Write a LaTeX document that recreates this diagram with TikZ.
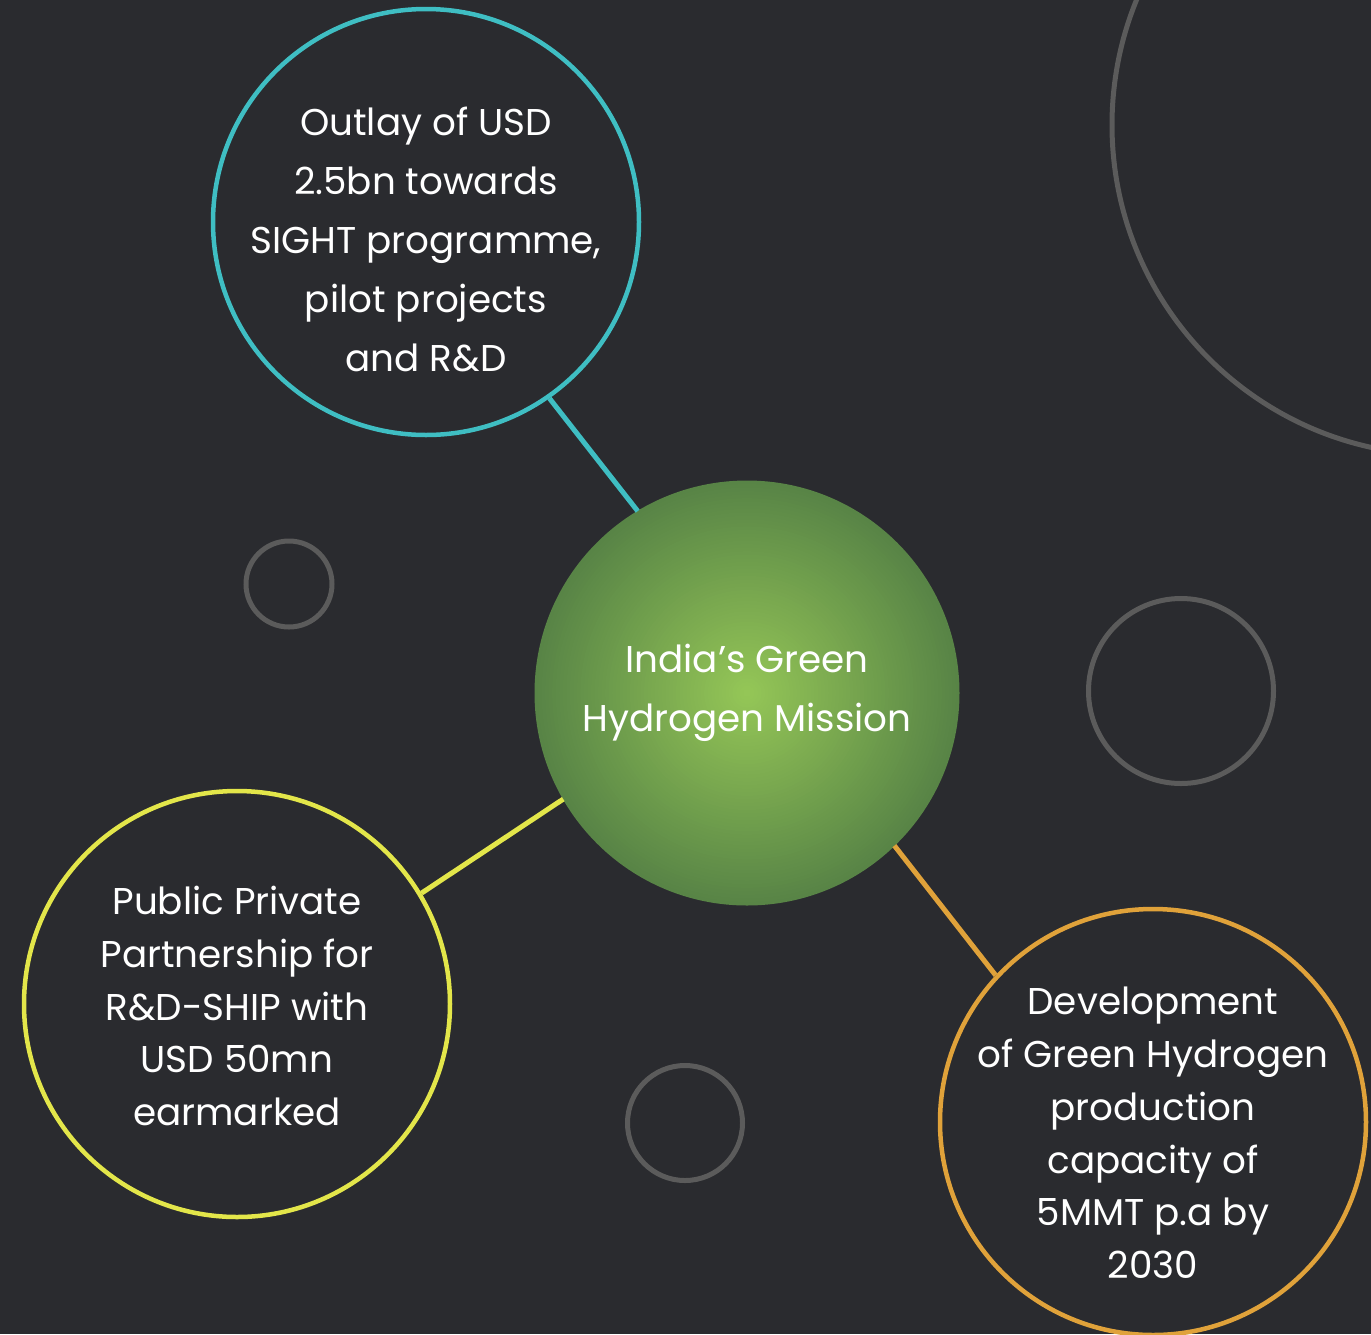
\documentclass[tikz,border=0pt]{standalone}
\usepackage{fontspec}
\setmainfont{Poppins}
\usepackage{tikz}
\usetikzlibrary{positioning}

\definecolor{bg}{HTML}{2A2B2F}
\definecolor{ringgray}{HTML}{5B5B5B}
\definecolor{tealc}{HTML}{3FBEC3}
\definecolor{yellowc}{HTML}{E3E64A}
\definecolor{orangec}{HTML}{E0A23A}
\definecolor{greenin}{HTML}{95C757}
\definecolor{greenout}{HTML}{588446}

\begin{document}
\begin{tikzpicture}[x=1pt,y=-1pt,
	main node/.style={circle,draw,line width=4.5pt,minimum size=426pt,inner sep=0pt},
	hub node/.style={circle,minimum size=424pt,inner sep=0pt},
	text node/.style={text=white,align=center,font=\fontsize{37.3}{59}\selectfont},
	ring/.style={draw=ringgray,line width=5pt}]
		\fill[bg] (0,0) rectangle (1371,1334);
		\clip (0,0) rectangle (1371,1334);
		% background rings
		\draw[ring] (1442,125) circle[radius=330];
		\draw[ring] (289,584) circle[radius=43];
		\draw[ring] (1181,691) circle[radius=92.5];
		\draw[ring] (685,1123) circle[radius=57.5];
		% circles
		\node[hub node] (0) at (747,693) {};
		\foreach \i in {0,...,60}
		\fill[greenin!\fpeval{100*\i/60}!greenout] (0) circle[radius=212*(60-\i)/60+0.5];
		\node[main node,draw=tealc] (1) at (426,222) {};
		\node[main node,draw=yellowc] (2) at (237,1004) {};
		\node[main node,draw=orangec] (3) at (1153,1122) {};
		\path[line width=5pt]
		(0.121) edge[tealc] (1.305)
		(0.210) edge[yellowc] (2.31)
		(0.314) edge[orangec] (3.137);
		% texts
		\node[text node] (0t) at (0) {India’s Green\\Hydrogen Mission};
		\node[text node,yshift=-17pt] (1t) at (1) {Outlay of USD\\2.5bn towards\\SIGHT programme,\\pilot projects\\and R\&D};
		\node[text node,font=\fontsize{37.3}{52.7}\selectfont,yshift=-2pt] (2t) at (2) {Public Private\\Partnership for\\R\&D-SHIP with\\USD 50mn\\earmarked};
		\node[text node,font=\fontsize{37.3}{52.7}\selectfont,yshift=-11pt] (3t) at (3) {Development\\of Green Hydrogen\\production\\capacity of\\5MMT p.a by\\2030};
		\end{tikzpicture}
\end{document}
